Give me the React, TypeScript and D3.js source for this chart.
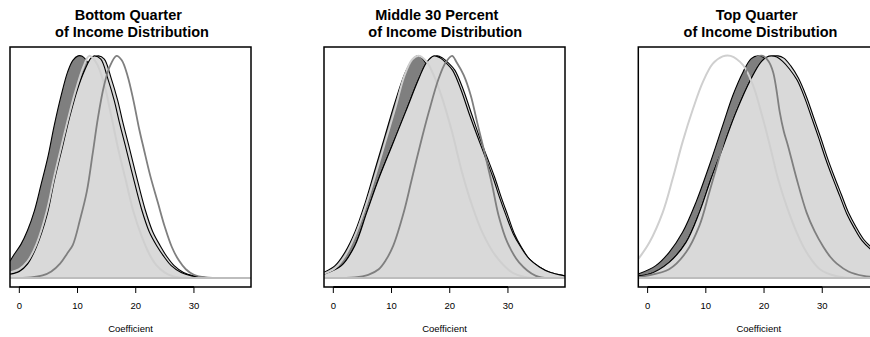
import React from "react";
import * as d3 from "d3";

type Pt = [number, number];

// ---------- data ----------
const titleLine1 = ["Bottom Quarter", "Middle 30 Percent", "Top Quarter"];
const titleLine2 = ["of Income Distribution", "of Income Distribution", "of Income Distribution"];
const xTicks = [0, 10, 20, 30];
const xLabel = "Coefficient";

// Panel 1 (Bottom Quarter)
const p1Dark: Pt[] = [[-1.6,0.076],[-0.9,0.106],[0.3,0.153],[1.4,0.214],[2.6,0.304],[3.7,0.417],[4.9,0.544],[6.0,0.687],[7.2,0.823],[8.3,0.928],[9.2,0.98],[10.1,1.0],[10.8,0.998],[12.0,0.96],[13.5,0.86],[15.0,0.72],[16.5,0.55],[18.0,0.39],[19.5,0.25],[21.0,0.14],[23.0,0.06],[25.0,0.02],[27.0,0.005],[29.0,0]];
const p1LightA: Pt[] = [[-1.6,0.018],[0,0.03],[1.4,0.063],[2.9,0.138],[4.8,0.288],[6.0,0.438],[7.5,0.6],[8.7,0.73],[10.0,0.85],[11.3,0.94],[12.3,0.99],[12.9,1.0],[14.0,0.985],[15.2,0.898],[16.3,0.8],[17.2,0.7],[18.2,0.597],[19.5,0.46],[21.0,0.31],[22.3,0.21],[23.6,0.146],[24.9,0.095],[26.1,0.056],[27.8,0.025],[29.6,0.01],[32,0.002],[35,0]];
const p1LightB: Pt[] = [[-1.6,0.018],[0,0.03],[1.4,0.063],[2.9,0.138],[4.8,0.288],[6.0,0.438],[7.5,0.6],[8.7,0.73],[10.0,0.85],[11.3,0.94],[12.4,0.985],[13.6,1.0],[14.6,0.985],[15.8,0.898],[16.9,0.8],[17.8,0.7],[18.8,0.597],[20.1,0.46],[21.6,0.31],[22.9,0.21],[24.2,0.146],[25.4,0.095],[26.6,0.056],[28.2,0.025],[29.9,0.01],[32.3,0.002],[35,0]];
const p1Light: Pt[] = [[-1.6,0.025],[0,0.04],[1.4,0.075],[2.9,0.15],[4.7,0.3],[5.9,0.445],[7.3,0.6],[8.5,0.73],[9.8,0.855],[11.0,0.95],[12.0,1.0],[13.2,0.97],[14.5,0.88],[15.8,0.73],[17.0,0.58],[18.2,0.45],[19.6,0.3],[21.0,0.19],[22.3,0.11],[23.5,0.06],[25.0,0.025],[26.5,0.008],[28,0]];
const p1Mid: Pt[] = [[-1.6,0],[2.0,0.003],[4.0,0.012],[5.5,0.03],[7.0,0.065],[8.2,0.11],[9.2,0.15],[10.4,0.26],[11.6,0.39],[12.6,0.56],[13.5,0.72],[14.5,0.86],[15.5,0.95],[16.7,1.0],[17.6,0.98],[18.6,0.91],[19.6,0.8],[20.6,0.67],[21.4,0.58],[22.5,0.46],[23.8,0.34],[25.0,0.23],[26.2,0.14],[27.4,0.08],[28.6,0.04],[30.0,0.015],[32,0.003],[35,0]];

// Panel 2 (Middle 30 Percent)
const p2Dark: Pt[] = [[-1.6,0.026],[0.3,0.056],[2.0,0.116],[3.7,0.206],[5.5,0.341],[7.2,0.492],[8.9,0.642],[10.6,0.792],[12.4,0.928],[13.8,0.99],[14.7,1.0],[15.8,0.97],[17.0,0.88],[18.5,0.72],[20.0,0.54],[21.5,0.37],[23.0,0.23],[24.5,0.13],[26.0,0.06],[28.0,0.02],[30,0.005],[32,0]];
const p2LightA: Pt[] = [[-1.6,0.018],[1.4,0.056],[3.7,0.146],[5.75,0.296],[7.8,0.447],[10.1,0.597],[12.4,0.747],[14.7,0.898],[16.0,0.97],[17.3,1.0],[18.4,0.99],[19.5,0.965],[20.5,0.935],[21.9,0.85],[23.4,0.735],[24.8,0.635],[26.1,0.545],[27.4,0.455],[28.6,0.36],[29.7,0.28],[30.9,0.2],[32.2,0.14],[33.7,0.085],[35.4,0.05],[37.2,0.026],[39.8,0.01]];
const p2LightB: Pt[] = [[-1.6,0.018],[1.4,0.056],[3.7,0.146],[5.75,0.296],[7.8,0.447],[10.1,0.597],[12.4,0.747],[14.7,0.898],[16.1,0.97],[17.8,1.0],[18.8,0.99],[19.9,0.965],[20.9,0.935],[22.3,0.85],[23.8,0.735],[25.1,0.635],[26.4,0.545],[27.7,0.455],[28.9,0.36],[30.0,0.28],[31.1,0.2],[32.3,0.14],[33.7,0.085],[35.4,0.05],[37.2,0.026],[39.8,0.01]];
const p2Light: Pt[] = [[-1.6,0.02],[0.3,0.045],[2.0,0.1],[3.7,0.19],[5.5,0.32],[7.3,0.47],[9.0,0.62],[10.7,0.77],[12.2,0.91],[13.6,0.985],[14.8,1.0],[16.0,0.975],[17.3,0.91],[18.7,0.81],[20.4,0.657],[22.1,0.477],[23.85,0.326],[25.6,0.206],[27.9,0.1],[30.7,0.026],[33,0.005],[35,0]];
const p2Mid: Pt[] = [[-1.6,0],[3.7,0.003],[6.0,0.015],[7.8,0.04],[9.0,0.08],[10.3,0.146],[12.1,0.296],[13.5,0.447],[14.9,0.597],[16.4,0.747],[18.1,0.898],[19.3,0.97],[20.4,1.0],[21.2,0.97],[22.4,0.913],[23.6,0.823],[24.7,0.702],[26.1,0.552],[27.3,0.417],[28.4,0.281],[29.9,0.161],[31.9,0.071],[34.8,0.01],[37,0]];

// Panel 3 (Top Quarter)
const p3Dark: Pt[] = [[-1.6,0.018],[1.4,0.056],[3.7,0.116],[6.0,0.206],[8.3,0.341],[10.6,0.507],[12.9,0.687],[14.65,0.823],[16.4,0.928],[17.8,0.988],[19.0,1.0],[19.8,0.995],[21.0,0.96],[22.5,0.88],[24.0,0.76],[26.0,0.58],[28.0,0.4],[30.0,0.25],[32.0,0.14],[34.0,0.07],[36.0,0.03],[38.0,0.01],[39.8,0.004]];
const p3LightA: Pt[] = [[-1.6,0.01],[0.3,0.018],[3.7,0.071],[6.6,0.161],[8.9,0.296],[10.9,0.447],[13.05,0.597],[15.2,0.747],[17.8,0.898],[19.4,0.97],[20.5,0.995],[21.2,1.0],[22.2,0.995],[23.2,0.975],[24.4,0.94],[25.7,0.89],[27.0,0.81],[28.2,0.72],[29.4,0.63],[30.6,0.535],[31.8,0.45],[33.0,0.37],[34.2,0.29],[35.5,0.225],[36.8,0.17],[38.3,0.13],[39.8,0.1]];
const p3LightB: Pt[] = [[-1.6,0.01],[0.3,0.018],[3.7,0.071],[6.6,0.161],[8.9,0.296],[10.9,0.447],[13.05,0.597],[15.2,0.747],[17.8,0.898],[19.5,0.97],[21.0,0.995],[22.4,1.0],[23.4,0.99],[24.6,0.955],[25.9,0.9],[27.3,0.815],[28.5,0.725],[29.7,0.635],[30.9,0.54],[32.1,0.455],[33.3,0.375],[34.5,0.295],[35.8,0.23],[37.1,0.175],[38.6,0.135],[39.8,0.11]];
const p3Light: Pt[] = [[-1.6,0.086],[0.3,0.16],[2.6,0.296],[4.3,0.447],[6.0,0.612],[7.8,0.762],[9.5,0.883],[11.2,0.965],[12.9,0.998],[14.25,1.0],[16.4,0.958],[18.1,0.868],[19.5,0.747],[21.0,0.597],[22.4,0.447],[23.85,0.326],[25.6,0.206],[27.3,0.116],[29.6,0.04],[32.5,0.008],[35,0]];
const p3Mid: Pt[] = [[-1.6,0.004],[-0.3,0.01],[3.7,0.04],[6.6,0.116],[8.9,0.236],[10.6,0.386],[12.4,0.552],[14.1,0.717],[15.8,0.853],[17.5,0.958],[18.8,0.995],[19.8,1.0],[20.8,0.975],[21.55,0.928],[22.1,0.853],[22.7,0.747],[23.4,0.66],[24.1,0.597],[25.6,0.447],[27.3,0.296],[28.7,0.21],[30.2,0.14],[31.4,0.095],[32.5,0.065],[34.5,0.03],[37.1,0.01],[39.8,0.003]];

const darkCurves = [p1Dark, p2Dark, p3Dark];
const lightACurves = [p1LightA, p2LightA, p3LightA];
const lightBCurves = [p1LightB, p2LightB, p3LightB];
const lightLines = [p1Light, p2Light, p3Light];
const midLines = [p1Mid, p2Mid, p3Mid];

// ---------- layout ----------
const W = 870;
const H = 337;
const panelLefts = [10, 324, 638.3];
const PW = 241;
const TOP = 47;
const BOTTOM = 287;
const titleOffsets = [[-2.2, 1.5], [-7.7, 0.8], [-2.1, 1.7]];
const FONT = "'Liberation Sans', Arial, Helvetica, sans-serif";

function Panel({ i }: { i: number }) {
  const left = panelLefts[i];
  const x = d3.scaleLinear().domain([-1.6, 39.8]).range([left, left + PW]);
  const y = d3.scaleLinear().domain([-0.04, 1.04]).range([BOTTOM, TOP]);
  const crv = d3.curveCatmullRom.alpha(0.5);
  const line = d3.line<Pt>().x((d) => x(d[0])).y((d) => y(Math.max(0, d[1]))).curve(crv);
  const area = d3.area<Pt>().x((d) => x(d[0])).y0(y(0)).y1((d) => y(Math.max(0, d[1]))).curve(crv);
  const cx = left + PW / 2;
  const clipId = `clip-${i}`;
  return (
    <g>
      <defs>
        <clipPath id={clipId}>
          <rect x={left} y={TOP} width={PW} height={BOTTOM - TOP} />
        </clipPath>
      </defs>
      <g clipPath={`url(#${clipId})`}>
        <path d={area(darkCurves[i]) || ""} fill="#7f7f7f" />
        <path d={line(darkCurves[i]) || ""} fill="none" stroke="#000" strokeWidth={1.1} />
        <path d={area(lightBCurves[i]) || ""} fill="#d9d9d9" />
        <path d={line(lightBCurves[i]) || ""} fill="none" stroke="#000" strokeWidth={1.1} />
        <path d={area(lightACurves[i]) || ""} fill="#d9d9d9" />
        <path d={line(lightACurves[i]) || ""} fill="none" stroke="#000" strokeWidth={1.1} />
        <path d={line(lightLines[i]) || ""} fill="none" stroke="#cfcfcf" strokeWidth={2} />
        <path d={line(midLines[i]) || ""} fill="none" stroke="#7f7f7f" strokeWidth={1.8} />
        <line x1={left} x2={left + PW} y1={y(0)} y2={y(0)} stroke="#bdbdbd" strokeWidth={2} />
      </g>
      <rect x={left} y={TOP} width={PW} height={BOTTOM - TOP} fill="none" stroke="#000" strokeWidth={1.5} />
      <line x1={x(xTicks[0])} x2={x(xTicks[xTicks.length - 1])} y1={BOTTOM} y2={BOTTOM} stroke="#000" strokeWidth={2} />
      {xTicks.map((t) => (
        <g key={t}>
          <line x1={x(t)} x2={x(t)} y1={BOTTOM} y2={BOTTOM + 6} stroke="#000" strokeWidth={1} />
          <text x={x(t)} y={309} textAnchor="middle" fontSize={9.5} fontFamily={FONT} fill="#000">
            {t}
          </text>
        </g>
      ))}
      <text x={cx} y={331.5} textAnchor="middle" fontSize={9.5} fontFamily={FONT} fill="#000">
        {xLabel}
      </text>
      <text x={cx + titleOffsets[i][0]} y={19.5} textAnchor="middle" fontSize={14.5} fontWeight="bold" fontFamily={FONT} fill="#000">
        {titleLine1[i]}
      </text>
      <text x={cx + titleOffsets[i][1]} y={36.7} textAnchor="middle" fontSize={14.5} fontWeight="bold" fontFamily={FONT} fill="#000">
        {titleLine2[i]}
      </text>
    </g>
  );
}

export default function App() {
  return (
    <svg
      width={W}
      height={H}
      viewBox={`0 0 ${W} ${H}`}
      style={{ position: "absolute", left: 0, top: 0, background: "#fff" }}
    >
      <rect x={0} y={0} width={W} height={H} fill="#fff" />
      {[0, 1, 2].map((i) => (
        <Panel key={i} i={i} />
      ))}
    </svg>
  );
}
